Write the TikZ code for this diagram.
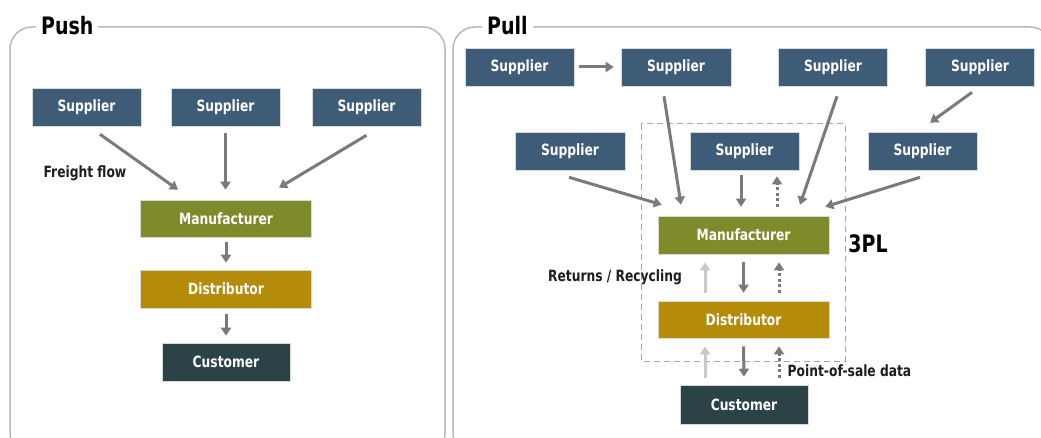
\documentclass[tikz,border=0pt]{standalone}
\usepackage{fontspec}
\setmainfont{DejaVu Sans Condensed}
\newfontfamily\boxfont[FakeStretch=0.88]{DejaVu Sans Condensed}
\usepackage{tikz}
\usetikzlibrary{calc,arrows.meta}

\definecolor{supblue}{RGB}{62,92,120}
\definecolor{manolive}{RGB}{127,138,42}
\definecolor{distgold}{RGB}{181,139,10}
\definecolor{custslate}{RGB}{43,66,70}
\definecolor{arrgray}{RGB}{122,122,122}
\definecolor{arrlight}{RGB}{200,200,200}
\definecolor{framegray}{RGB}{185,185,185}
\definecolor{txtdark}{RGB}{30,30,30}

\begin{document}
\begin{tikzpicture}[x=1pt, y=-1pt,
    chain/.style={draw=white!70!gray, line width=0.6pt, text=white, font=\boxfont\bfseries\fontsize{15.5}{17}\selectfont,
      minimum height=38pt, inner sep=0pt},
    supplier/.style={chain, fill=supblue, minimum width=109pt},
    maker/.style={chain, fill=manolive, minimum width=171pt},
    distrib/.style={chain, fill=distgold, minimum width=171pt},
    buyer/.style={chain, fill=custslate, minimum width=128pt},
    flow/.style={draw=arrgray, line width=3pt, -{Triangle[width=10pt,length=8pt]}},
    back/.style={flow, draw=arrlight},
    info/.style={flow, dash pattern=on 3pt off 2.5pt},
    frame/.style={draw=framegray, line width=1.5pt, rounded corners=22pt},
    heading/.style={fill=white, inner xsep=5pt, inner ysep=2pt, text=black, font=\boxfont\bfseries\fontsize{24}{26}\selectfont},
    note/.style={text=txtdark, font=\boxfont\bfseries\fontsize{15.5}{17}\selectfont, inner sep=0pt}]
  \useasboundingbox (0,0) rectangle (1041,438);
  \clip (0,0) rectangle (1041,438);

  % push
  \draw[frame] (10,27) rectangle (445,455);
  \node[heading, anchor=west] (pushlbl) at (36,26) {Push};
  \node[supplier] (s1) at (86.5,107) {Supplier};
  \node[supplier] (s2) at (225.5,107) {Supplier};
  \node[supplier] (s3) at (366.5,107) {Supplier};
  \node[maker, minimum height=37pt] (m1) at (226,218.5) {Manufacturer};
  \node[distrib] (d1) at (226,289) {Distributor};
  \node[buyer] (c1) at (226,362) {Customer};
  \node[note] (freight) at (85,173) {Freight flow};
  \draw[flow] ([xshift=13.5pt,yshift=-8pt]s1.south) -- ([xshift=-48pt,yshift=10pt]m1.north);
  \draw[flow] ([yshift=-7pt]s2.south) -- ([xshift=-0.5pt,yshift=10pt]m1.north);
  \draw[flow] ([yshift=-9pt]s3.south) -- ([xshift=53pt,yshift=12pt]m1.north);
  \draw[flow] ([yshift=-5pt]m1.south) -- ([yshift=7pt]d1.north);
  \draw[flow] ([yshift=-6pt]d1.south) -- ([yshift=7pt]c1.north);

  % pull
  \draw[frame] (453,27) rectangle (1052,455);
  \node[heading, anchor=west] (pulllbl) at (482,26) {Pull};
  \draw[draw=gray!70, line width=1pt, dash pattern=on 6pt off 4pt] (641,124) rectangle (845,361);
  \node[supplier] (pa) at (519.5,67) {Supplier};
  \node[supplier, minimum width=110pt] (pb) at (676,67) {Supplier};
  \node[supplier] (pc) at (833,67) {Supplier};
  \node[supplier] (pd) at (980,67) {Supplier};
  \node[supplier, minimum width=110pt] (pe) at (570,151) {Supplier};
  \node[supplier] (pf) at (744.5,151) {Supplier};
  \node[supplier] (pg) at (922.5,151) {Supplier};
  \node[maker] (pm) at (743.5,235) {Manufacturer};
  \node[distrib, minimum height=37pt] (pdist) at (743.5,319.5) {Distributor};
  \node[buyer, minimum height=39pt] (pcust) at (744,404.5) {Customer};
  \node[note, font=\boxfont\bfseries\fontsize{24}{26}\selectfont, text=black] (tpl) at (868,244) {3PL};
  \node[note] (returns) at (615,277) {Returns / Recycling};
  \node[note] (pos) at (849.5,371) {Point-of-sale data};

  \draw[flow] ([xshift=5pt]pa.east) -- ([xshift=-7pt]pb.west);
  \draw[flow] ([xshift=-12pt,yshift=-10pt]pb.south) -- ([xshift=-62.5pt,yshift=11pt]pm.north);
  \draw[flow] ([xshift=4pt,yshift=-10pt]pc.south) -- ([xshift=56.5pt,yshift=11pt]pm.north);
  \draw[flow] ([xshift=-8pt,yshift=-6pt]pd.south) -- ([xshift=7.5pt,yshift=9pt]pg.north);
  \draw[flow] ([xshift=-1pt,yshift=-7pt]pe.south) -- ([xshift=4pt,yshift=11pt]pm.north west);
  \draw[flow] ([xshift=-2.5pt,yshift=-7pt]pg.south) -- ([xshift=-4pt,yshift=9pt]pm.north east);
  \draw[flow] ([xshift=-3.5pt,yshift=-5pt]pf.south) -- ([xshift=-2.5pt,yshift=9pt]pm.north);
  \draw[info] ([xshift=33.5pt,yshift=9pt]pm.north) -- ([xshift=32.5pt,yshift=-6pt]pf.south);

  \draw[flow] ([yshift=-8pt]pm.south) -- ([yshift=8pt]pdist.north);
  \draw[back] ([xshift=-38.5pt,yshift=8pt]pdist.north) -- ([xshift=-38.5pt,yshift=-8pt]pm.south);
  \draw[info] ([xshift=35.5pt,yshift=8pt]pdist.north) -- ([xshift=35.5pt,yshift=-8pt]pm.south);
  \draw[flow] ([yshift=-8pt]pdist.south) -- ([yshift=8pt]pcust.north);
  \draw[back] ([xshift=-39pt,yshift=7pt]pcust.north) -- ([xshift=-38.5pt,yshift=-8pt]pdist.south);
  \draw[info] ([xshift=35pt,yshift=7pt]pcust.north) -- ([xshift=35.5pt,yshift=-8pt]pdist.south);
\end{tikzpicture}
\end{document}
